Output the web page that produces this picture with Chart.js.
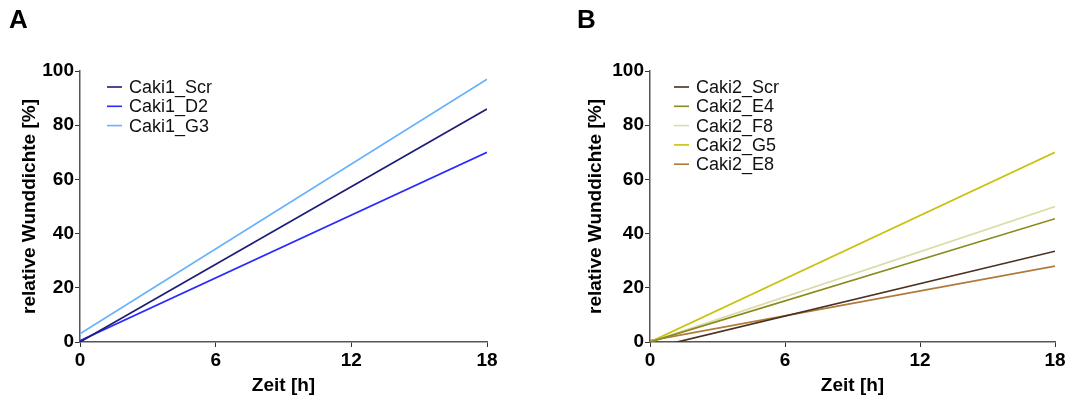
<!DOCTYPE html>
<html>
<head>
<meta charset="utf-8">
<script src="https://cdn.jsdelivr.net/npm/chart.js@4/dist/chart.umd.min.js"></script>
<style>
  body { margin: 0; background: #fff; }
  .panel { position: absolute; top: 0; width: 536px; height: 399px; }
  .letter { position: absolute; top: 4px; font: bold 26px "Liberation Sans", Arial, sans-serif; color: #000; }
</style>
</head>
<body>
<div class="panel" style="left:0"><canvas id="chartA" width="536" height="399"></canvas></div>
<div class="panel" style="left:536px"><canvas id="chartB" width="536" height="399"></canvas></div>
<div class="letter" style="left:9px">A</div>
<div class="letter" style="left:577px">B</div>
<script>
// regression lines, start and end of the 0-18 h window
var hours = [0, 18];

var labelsA = ["Caki1_Scr", "Caki1_D2", "Caki1_G3"];
var caki1Scr = [0, 86];
var caki1D2 = [0.5, 70];
var caki1G3 = [3, 97];
var colorsA = ["#1e1e78", "#2a2aff", "#69b1ff"];

var labelsB = ["Caki2_Scr", "Caki2_E4", "Caki2_F8", "Caki2_G5", "Caki2_E8"];
var caki2Scr = [-2.4, 33.5];
var caki2E4 = [0, 45.5];
var caki2F8 = [0, 50];
var caki2G5 = [0, 70];
var caki2E8 = [0.5, 28];
var colorsB = ["#4a3020", "#8a8a1c", "#dcdcaa", "#c8c20e", "#b07a3a"];

var xTicks = [0, 6, 12, 18];
var yTicks = [0, 20, 40, 60, 80, 100];

var FONT = "'Liberation Sans', Arial, sans-serif";

function points(vals) {
  return hours.map(function(h, i) { return { x: h, y: vals[i] }; });
}

function makeSets(labels, series, colors) {
  return labels.map(function(l, i) {
    return {
      label: l,
      data: points(series[i]),
      borderColor: colors[i],
      backgroundColor: colors[i],
      borderWidth: 1.7,
      pointRadius: 0,
      tension: 0
    };
  });
}

// legend drawn inside the plot, top-left, one entry per row
var insideLegend = {
  id: "insideLegend",
  afterDraw: function(chart, args, opts) {
    var ctx = chart.ctx;
    var area = chart.chartArea;
    ctx.save();
    ctx.font = "18px " + FONT;
    ctx.textBaseline = "middle";
    chart.data.datasets.forEach(function(ds, i) {
      var y = area.top + 16 + i * 19.3;
      var x0 = area.left + opts.dx;
      ctx.strokeStyle = ds.borderColor;
      ctx.lineWidth = 1.6;
      ctx.beginPath();
      ctx.moveTo(x0, y);
      ctx.lineTo(x0 + 15, y);
      ctx.stroke();
      ctx.fillStyle = "#111";
      ctx.fillText(ds.label, x0 + 22, y + 1);
    });
    ctx.restore();
  }
};

function makeChart(id, sets, pad, yWidth, legendDx) {
  var ctx = document.getElementById(id).getContext("2d");
  return new Chart(ctx, {
    type: "line",
    data: { datasets: sets },
    plugins: [insideLegend],
    options: {
      responsive: false,
      animation: false,
      devicePixelRatio: 1,
      layout: { padding: pad },
      plugins: {
        legend: { display: false },
        tooltip: { enabled: false },
        insideLegend: { dx: legendDx }
      },
      scales: {
        x: {
          type: "linear",
          min: 0,
          max: 18,
          afterBuildTicks: function(s) { s.ticks = xTicks.map(function(v) { return { value: v }; }); },
          afterFit: function(s) { s.height = 57 - pad.bottom; },
          grid: { drawOnChartArea: false, drawTicks: true, tickLength: 5, color: "#333" },
          border: { color: "#555", width: 1.5 },
          ticks: { color: "#000", padding: 2, maxRotation: 0, font: { family: FONT, size: 19, weight: "bold" } },
          title: { display: true, text: "Zeit [h]", color: "#000", padding: { top: 1, bottom: 0 }, font: { family: FONT, size: 19, weight: "bold" } }
        },
        y: {
          min: 0,
          max: 100,
          afterBuildTicks: function(s) { s.ticks = yTicks.map(function(v) { return { value: v }; }); },
          afterFit: function(s) { s.width = yWidth; },
          grid: { drawOnChartArea: false, drawTicks: true, tickLength: 5, color: "#333" },
          border: { color: "#555", width: 1.5 },
          ticks: { color: "#000", padding: 1, font: { family: FONT, size: 19, weight: "bold" } },
          title: { display: true, text: "relative Wunddichte [%]", color: "#000", padding: { top: 0, bottom: 0 }, font: { family: FONT, size: 19, weight: "bold" } }
        }
      }
    }
  });
}

makeChart("chartA", makeSets(labelsA, [caki1Scr, caki1D2, caki1G3], colorsA),
  { top: 71, right: 49, bottom: 2, left: 18 }, 62, 27);
makeChart("chartB", makeSets(labelsB, [caki2Scr, caki2E4, caki2F8, caki2G5, caki2E8], colorsB),
  { top: 71, right: 17, bottom: 2, left: 48 }, 66, 24);
</script>
</body>
</html>
